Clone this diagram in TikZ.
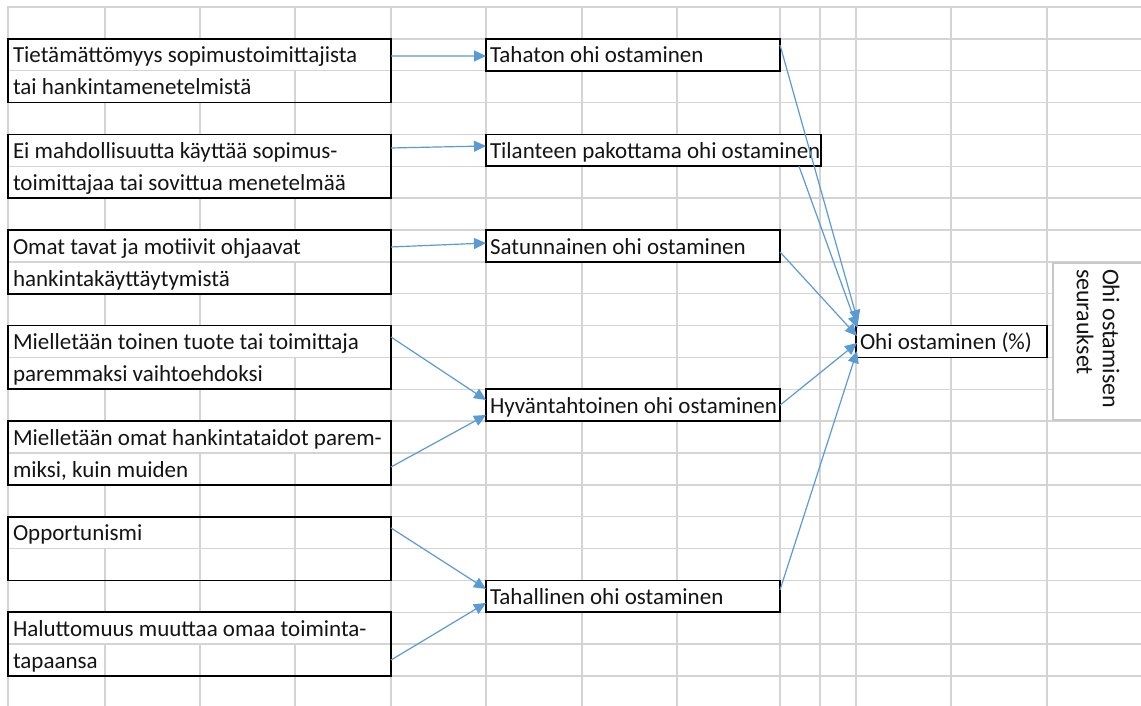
\documentclass[tikz,border=0pt]{standalone}
\usepackage{fontspec}
\setmainfont{Carlito}
\usetikzlibrary{arrows.meta}
\definecolor{gridc}{RGB}{212,212,212}
\definecolor{arrc}{RGB}{91,155,213}
\definecolor{sidec}{RGB}{200,200,200}
\definecolor{txtc}{RGB}{20,20,20}
\begin{document}
\begin{tikzpicture}[x=1pt,y=-1pt,
  lbox/.style={draw=black, line width=1.8pt, minimum width=383pt, minimum height=63.71pt, inner sep=0pt, outer sep=0pt},
  mbox/.style={draw=black, fill=white, line width=1.8pt, minimum height=31.86pt, inner sep=0pt, outer sep=0pt},
  txt/.style={anchor=base west, inner sep=0pt, outer sep=0pt, font=\fontsize{23}{26.5}\selectfont, text=txtc},
  arr/.style={draw=arrc, line width=1.2pt, -{Triangle[length=12pt,width=11pt]}},
  gridl/.style={draw=gridc, line width=1.3pt},
  clr/.style={fill=white}]
\useasboundingbox (0,0) rectangle (1141,706);
\clip (0,0) rectangle (1141,706);
\fill[white] (0,0) rectangle (1141,706);

% grid
\foreach \x in {8,105,200,295,391,486,582,677,780,820,856,951,1047}
  \draw[gridl] (\x,6.4) -- (\x,706);
\foreach \k in {0,...,21}
  \draw[gridl] (7.4,{7+31.857*\k}) -- (1141,{7+31.857*\k});

% cleared cells where text overflows
\fill[clr] (8.7,39.6) rectangle (390,70.0);
\fill[clr] (8.7,71.4) rectangle (294.3,101.9);
\fill[clr] (8.7,135.1) rectangle (390,165.6);
\fill[clr] (8.7,167.0) rectangle (390,197.4);
\fill[clr] (8.7,230.7) rectangle (390,261.2);
\fill[clr] (8.7,262.6) rectangle (294.3,293.0);
\fill[clr] (8.7,326.3) rectangle (390,356.7);
\fill[clr] (8.7,358.1) rectangle (294.3,388.6);
\fill[clr] (8.7,421.8) rectangle (390,452.3);
\fill[clr] (8.7,453.7) rectangle (199.3,484.2);
\fill[clr] (8.7,517.4) rectangle (199.3,547.9);
\fill[clr] (8.7,613.0) rectangle (390,643.4);
\fill[clr] (8.7,644.8) rectangle (104.3,675.3);

% left boxes
\node[lbox] (a1) at (199.5,70.71) {};
\node[lbox] (a2) at (199.5,166.29) {};
\node[lbox] (a3) at (199.5,261.86) {};
\node[lbox] (a4) at (199.5,357.43) {};
\node[lbox] (a5) at (199.5,453) {};
\node[lbox] (a6) at (199.5,548.57) {};
\node[lbox] (a7) at (199.5,644.14) {};

\node[txt] (t1a) at (13,63) {Tietämättömyys sopimustoimittajista};
\node[txt] (t1b) at (13,94.8) {tai hankintamenetelmistä};
\node[txt] (t2a) at (13,158.6) {Ei mahdollisuutta käyttää sopimus-};
\node[txt] (t2b) at (13,190.4) {toimittajaa tai sovittua menetelmää};
\node[txt] (t3a) at (13,254.2) {Omat tavat ja motiivit ohjaavat};
\node[txt] (t3b) at (13,286) {hankintakäyttäytymistä};
\node[txt] (t4a) at (13,349.7) {Mielletään toinen tuote tai toimittaja};
\node[txt] (t4b) at (13,381.6) {paremmaksi vaihtoehdoksi};
\node[txt] (t5a) at (13,445.4) {Mielletään omat hankintataidot parem-};
\node[txt] (t5b) at (13,477.2) {miksi, kuin muiden};
\node[txt] (t6a) at (13,540.9) {Opportunismi};
\node[txt] (t7a) at (13,636.4) {Haluttomuus muuttaa omaa toiminta-};
\node[txt] (t7b) at (13,668.3) {tapaansa};

% middle boxes
\node[mbox, minimum width=294pt] (b1) at (633,54.79) {};
\node[mbox, minimum width=335pt] (b2) at (653.5,150.36) {};
\node[mbox, minimum width=294pt] (b3) at (633,245.93) {};
\node[mbox, minimum width=294pt] (b4) at (633,405.21) {};
\node[mbox, minimum width=294pt] (b5) at (633,596.36) {};
\node[txt] (tb1) at (490,63) {Tahaton ohi ostaminen};
\node[txt] (tb2) at (490,158.6) {Tilanteen pakottama ohi ostaminen};
\node[txt] (tb3) at (490,254.2) {Satunnainen ohi ostaminen};
\node[txt] (tb4) at (490,413.4) {Hyväntahtoinen ohi ostaminen};
\node[txt] (tb5) at (490,604.7) {Tahallinen ohi ostaminen};

% target box
\node[mbox, minimum width=191pt] (c) at (951.5,341.5) {};
\node[txt] (tc) at (860,349.7) {Ohi ostaminen (\%)};

% side box
\node[draw=sidec, fill=white, line width=1.2pt, minimum width=100pt, minimum height=157pt, inner sep=0pt, outer sep=0pt] (side) at (1103,341.5) {};
\node[txt, rotate=-90, anchor=north west, align=left, font=\fontsize{24}{26}\selectfont] (sidet) at (1119.5,269) {Ohi ostamisen\\seuraukset};

% arrows left -> middle
\draw[arr] ([yshift=14.7pt]a1.east) -- ([yshift=-1.2pt]b1.west);
\draw[arr] ([yshift=18.3pt]a2.east) -- ([yshift=4.4pt]b2.west);
\draw[arr] ([yshift=14.9pt]a3.east) -- ([yshift=2.9pt]b3.west);
\draw[arr] ([yshift=20.4pt]a4.east) -- ([yshift=5.2pt]b4.west);
\draw[arr] ([yshift=-14pt]a5.east) -- ([yshift=-9.8pt]b4.west);
\draw[arr] ([yshift=20.6pt]a6.east) -- ([yshift=7.4pt]b5.west);
\draw[arr] ([yshift=-15.9pt]a7.east) -- ([yshift=-6.6pt]b5.west);

% arrows middle -> target
\draw[arr] ([yshift=9.8pt]b1.east) -- ([xshift=2pt,yshift=19.5pt]c.west);
\draw[arr] ([xshift=-22pt]b2.south east) -- ([xshift=1.5pt,yshift=13.5pt]c.west);
\draw[arr] ([yshift=-6pt]b3.east) -- ([xshift=1pt,yshift=5.5pt]c.west);
\draw[arr] (b4.east) -- ([xshift=1pt,yshift=-1.5pt]c.west);
\draw[arr] ([yshift=6.4pt]b5.east) -- ([xshift=1pt,yshift=-9.5pt]c.west);
\end{tikzpicture}
\end{document}
